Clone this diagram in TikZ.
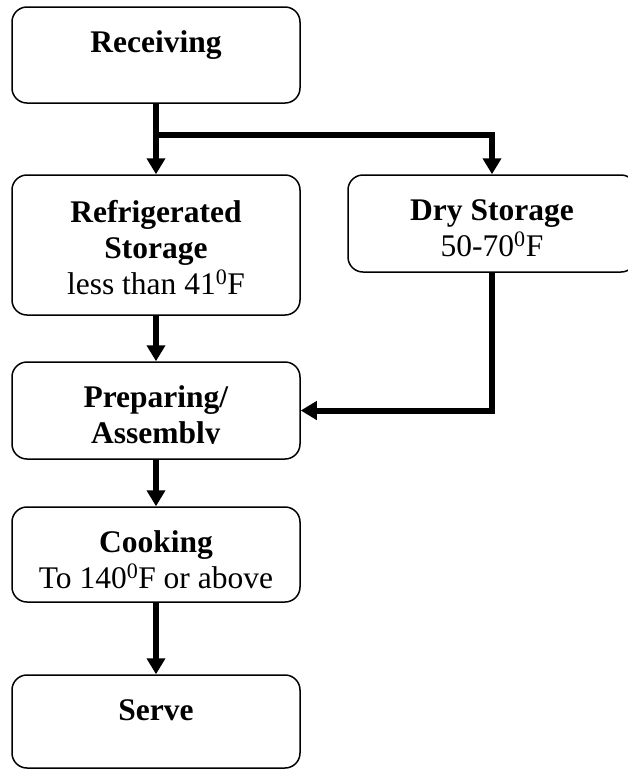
\documentclass[tikz,border=0pt]{standalone}
\usepackage{fontspec}
\setmainfont{Liberation Serif}
\usetikzlibrary{arrows.meta}
\begin{document}
\begin{tikzpicture}[x=1pt,y=-1pt,
  box/.style={draw, line width=1.5pt, rounded corners=15pt, minimum width=288pt, inner sep=0pt},
  txt/.style={anchor=base, inner sep=0pt, font=\fontsize{31.5}{36}\selectfont},
  conn/.style={line width=6pt, -{Triangle[length=16pt,width=18pt]}},
  plain/.style={line width=6pt}]
\useasboundingbox (0,0) rectangle (628,769);
% boxes
\node[box, minimum height=96pt]  (rec)    at (156,55) {};
\node[box, minimum height=140pt] (refrig) at (156,245) {};
\node[box, minimum height=97pt]  (dry)    at (492,223.5) {};
\node[box, minimum height=97pt]  (prep)   at (156,410.5) {};
\node[box, minimum height=95pt]  (cook)   at (156,554.5) {};
\node[box, minimum height=93pt]  (serve)  at (156,721.5) {};
% texts
\node[txt] (trec) at (156,52) {\textbf{Receiving}};
\node[txt] (trefrig) at (156,222) {\begin{tabular}[t]{@{}c@{}}\textbf{Refrigerated}\\\textbf{Storage}\\less than 41\textsuperscript{0}F\end{tabular}};
\node[txt] (tdry) at (492,220) {\begin{tabular}[t]{@{}c@{}}\textbf{Dry Storage}\\50-70\textsuperscript{0}F\end{tabular}};
\begin{scope}
\clip (12,362) rectangle (300,443.5);
\node[txt] (tprep) at (156,407) {\begin{tabular}[t]{@{}c@{}}\textbf{Preparing/}\\\textbf{Assembly}\end{tabular}};
\end{scope}
\node[txt] (tcook) at (156,552) {\begin{tabular}[t]{@{}c@{}}\textbf{Cooking}\\To 140\textsuperscript{0}F or above\end{tabular}};
\node[txt] (tserve) at (156,720) {\textbf{Serve}};
% connectors
\coordinate (j) at (156,135);
\draw[conn] (rec.south) -- (refrig.north);
\draw[conn] (j) -| (dry.north);
\draw[conn] (refrig.south) -- (prep.north);
\draw[conn] (dry.south) |- (prep.east);
\draw[conn] (prep.south) -- (cook.north);
\draw[conn] (cook.south) -- (serve.north);
\end{tikzpicture}
\end{document}
